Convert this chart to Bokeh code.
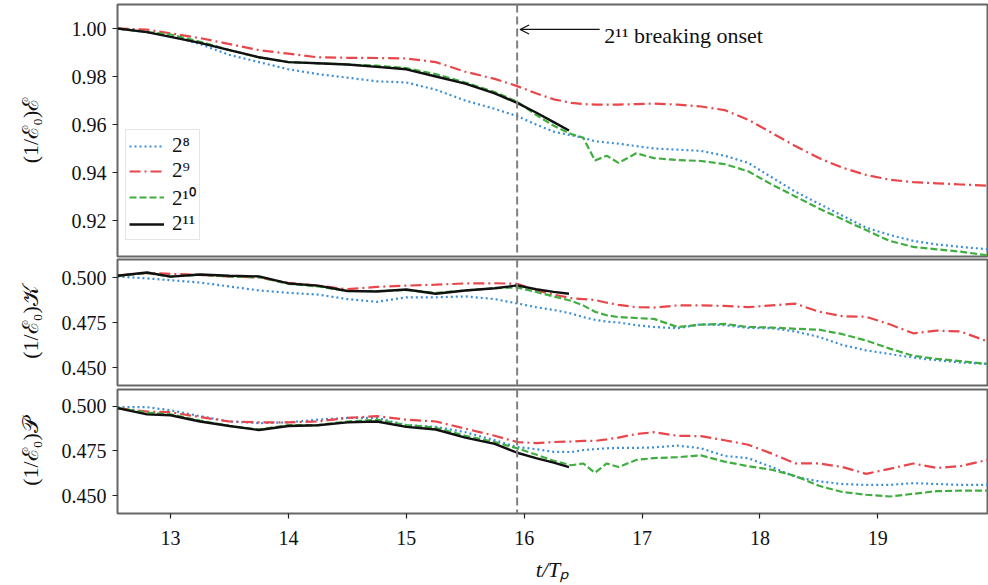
import numpy as np
from bokeh.plotting import figure
from bokeh.layouts import column
from bokeh.models import (Span, Arrow, OpenHead, Label, FixedTicker, NumeralTickFormatter,
                          Range1d, Legend, LegendItem)
from bokeh.embed import file_html
from bokeh.resources import INLINE

# ---------------- data ----------------
t = [12.55, 12.8, 13.0, 13.25, 13.5, 13.75, 14.0, 14.25, 14.5, 14.75, 15.0, 15.25, 15.5, 15.75,
     15.94, 16.1, 16.25, 16.4, 16.5, 16.6, 16.7, 16.8, 16.95, 17.1, 17.3, 17.5, 17.7, 17.9,
     18.1, 18.3, 18.5, 18.7, 18.9, 19.1, 19.3, 19.5, 19.7, 19.93]
t11 = [12.55, 12.8, 13.0, 13.25, 13.5, 13.75, 14.0, 14.25, 14.5, 14.75, 15.0, 15.25, 15.5, 15.75,
       15.94, 16.1, 16.25, 16.38]

E8 = [1.000, 0.9985, 0.997, 0.9935, 0.989, 0.986, 0.983, 0.981, 0.9795, 0.978, 0.9775, 0.9745,
      0.970, 0.9665, 0.9635, 0.960, 0.957, 0.9555, 0.9545, 0.953, 0.9525, 0.952, 0.951, 0.950,
      0.9495, 0.949, 0.947, 0.944, 0.938, 0.932, 0.927, 0.922, 0.917, 0.914, 0.9115, 0.910,
      0.909, 0.908]
E9 = [1.000, 0.9995, 0.998, 0.996, 0.9935, 0.991, 0.9895, 0.988, 0.9878, 0.9877, 0.9875, 0.986,
      0.982, 0.979, 0.976, 0.973, 0.9705, 0.969, 0.9685, 0.9683, 0.9683, 0.9683, 0.9685, 0.9687,
      0.9683, 0.9675, 0.966, 0.962, 0.9565, 0.951, 0.946, 0.942, 0.939, 0.937, 0.936, 0.9355,
      0.935, 0.9345]
E10 = [1.000, 0.9985, 0.9975, 0.9945, 0.991, 0.988, 0.986, 0.9855, 0.985, 0.9845, 0.9835, 0.981,
       0.9775, 0.9735, 0.9695, 0.964, 0.9595, 0.956, 0.9545, 0.945, 0.947, 0.944, 0.948, 0.946,
       0.9452, 0.9448, 0.9435, 0.9405, 0.935, 0.930, 0.925, 0.9205, 0.916, 0.9115, 0.909, 0.908,
       0.907, 0.9055]
E11 = [1.000, 0.9985, 0.9965, 0.994, 0.991, 0.988, 0.986, 0.9855, 0.985, 0.984, 0.983, 0.980,
       0.977, 0.973, 0.969, 0.965, 0.961, 0.9575]

K8 = [0.5005, 0.4995, 0.4985, 0.4972, 0.495, 0.4928, 0.4915, 0.4905, 0.488, 0.4865, 0.489, 0.489,
      0.4895, 0.488, 0.4856, 0.4835, 0.482, 0.480, 0.478, 0.4765, 0.4755, 0.475, 0.4735, 0.4725,
      0.4718, 0.474, 0.4735, 0.472, 0.4718, 0.470, 0.467, 0.4625, 0.4595, 0.4575, 0.4555, 0.454,
      0.4528, 0.452]
K9 = [0.501, 0.5025, 0.502, 0.5015, 0.5005, 0.500, 0.497, 0.4955, 0.4935, 0.4948, 0.4955, 0.496,
      0.4967, 0.4968, 0.4965, 0.493, 0.4905, 0.4885, 0.488, 0.4875, 0.486, 0.4848, 0.4835, 0.4833,
      0.4845, 0.4845, 0.4842, 0.4835, 0.4845, 0.4855, 0.481, 0.4785, 0.4782, 0.474, 0.469, 0.4705,
      0.470, 0.4645]
K10 = [0.501, 0.5025, 0.5005, 0.5015, 0.5005, 0.5002, 0.4965, 0.495, 0.4925, 0.4925, 0.493, 0.4915,
       0.4928, 0.494, 0.4945, 0.492, 0.4895, 0.487, 0.4845, 0.481, 0.479, 0.478, 0.4775, 0.477,
       0.4725, 0.4738, 0.4742, 0.4725, 0.4722, 0.4715, 0.471, 0.4685, 0.465, 0.4605, 0.4565,
       0.4548, 0.4535, 0.452]
K11 = [0.501, 0.5028, 0.5005, 0.5017, 0.501, 0.5006, 0.4967, 0.4955, 0.4925, 0.4922, 0.4933, 0.491,
       0.4928, 0.494, 0.4956, 0.4935, 0.492, 0.491]

P8 = [0.4995, 0.4995, 0.4978, 0.4945, 0.4915, 0.4906, 0.491, 0.4925, 0.4935, 0.4935, 0.4895, 0.4885,
      0.4855, 0.481, 0.4772, 0.476, 0.4745, 0.4744, 0.4755, 0.476, 0.4765, 0.4767, 0.4767, 0.477,
      0.478, 0.4765, 0.4722, 0.471, 0.466, 0.4605, 0.458, 0.4565, 0.456, 0.456, 0.457, 0.4565,
      0.456, 0.456]
P9 = [0.499, 0.497, 0.4967, 0.494, 0.4915, 0.491, 0.491, 0.4915, 0.4935, 0.4945, 0.4925, 0.4915,
      0.4875, 0.4835, 0.480, 0.4794, 0.480, 0.4803, 0.4806, 0.4806, 0.4815, 0.4825, 0.4845, 0.4855,
      0.4835, 0.4833, 0.481, 0.4785, 0.4735, 0.468, 0.468, 0.466, 0.4622, 0.465, 0.468, 0.4655,
      0.4665, 0.470]
P10 = [0.499, 0.4965, 0.4955, 0.492, 0.489, 0.487, 0.4895, 0.4895, 0.4915, 0.4925, 0.4895, 0.488,
       0.4835, 0.480, 0.4765, 0.473, 0.4695, 0.467, 0.468, 0.4628, 0.468, 0.466, 0.470, 0.471,
       0.4715, 0.4725, 0.469, 0.4665, 0.4645, 0.461, 0.4555, 0.452, 0.4505, 0.4495, 0.451, 0.4525,
       0.4528, 0.4528]
P11 = [0.499, 0.4955, 0.495, 0.4915, 0.489, 0.4867, 0.489, 0.4894, 0.491, 0.4915, 0.4885, 0.487,
       0.4825, 0.479, 0.474, 0.471, 0.4685, 0.466]

labels = ["2⁸", "2⁹", "2¹⁰", "2¹¹"]
onset = 15.94
x_ticks = [13, 14, 15, 16, 17, 18, 19]

# ---------------- styles ----------------
FONT = "Liberation Serif"
colors = ["#3d8fd6", "#e8464b", "#3fae3f", "#111111"]
dashes = ["2 3", "11 4 2 4", "7 3", "solid"]
XR = (12.55, 19.93)


def make_fig(height, yr, ticks, fmt, ylabel, border_top, border_bottom, standoff, show_x):
    p = figure(width=988, height=height, output_backend="svg", toolbar_location=None,
               x_range=Range1d(*XR), y_range=Range1d(*yr),
               min_border_left=117, min_border_right=1,
               min_border_top=border_top, min_border_bottom=border_bottom)
    p.grid.visible = False
    p.outline_line_color = "#666666"
    p.outline_line_width = 2
    p.background_fill_color = "white"
    p.border_fill_color = "white"
    p.yaxis.ticker = FixedTicker(ticks=ticks)
    p.yaxis.formatter = NumeralTickFormatter(format=fmt)
    p.yaxis.axis_label = ylabel
    p.yaxis.axis_label_text_font = FONT
    p.yaxis.axis_label_text_font_size = "22px"
    p.yaxis.axis_label_text_font_style = "normal"
    p.yaxis.axis_label_text_color = "#111111"
    p.yaxis.axis_label_standoff = standoff
    for ax in [p.xaxis[0], p.yaxis[0]]:
        ax.axis_line_color = None
        ax.major_tick_line_color = "#222222"
        ax.major_tick_line_width = 1.2
        ax.major_tick_out = 5
        ax.major_tick_in = 0
        ax.minor_tick_line_color = None
        ax.major_label_text_font = FONT
        ax.major_label_text_font_size = "20px"
        ax.major_label_text_color = "#111111"
        ax.major_label_standoff = 6
    p.xaxis.ticker = FixedTicker(ticks=x_ticks)
    if show_x:
        p.xaxis.major_label_standoff = 12
        p.xaxis.axis_label = "t/Tₚ"
        p.xaxis.axis_label_text_font = FONT
        p.xaxis.axis_label_text_font_size = "22px"
        p.xaxis.axis_label_text_font_style = "italic"
        p.xaxis.axis_label_text_color = "#111111"
        p.xaxis.axis_label_standoff = 9
    else:
        p.xaxis.visible = False
    p.add_layout(Span(location=onset, dimension="height", line_color="#808080",
                      line_width=2, line_dash="8 4"))
    return p


p1 = make_fig(258, (0.905, 1.01), [0.92, 0.94, 0.96, 0.98, 1.00], "0.00",
              "(1/ℰ₀)ℰ", 4, 2, 26, False)
p2 = make_fig(129, (0.440, 0.510), [0.450, 0.475, 0.500], "0.000",
              "(1/ℰ₀)𝒦", 1, 2, 16, False)
p3 = make_fig(198, (0.440, 0.5094), [0.450, 0.475, 0.500], "0.000",
              "(1/ℰ₀)𝒫", 2, 72, 16, True)

series = [(E8, E9, E10, E11), (K8, K9, K10, K11), (P8, P9, P10, P11)]
legend_items = []
for p, ys in zip([p1, p2, p3], series):
    for i, y in enumerate(ys):
        x = t11 if i == 3 else t
        r = p.line(x, y, line_color=colors[i], line_width=2.2 if i < 3 else 2.4,
                   line_dash=dashes[i])
        if p is p1:
            legend_items.append(LegendItem(label=labels[i], renderers=[r]))

leg = Legend(items=legend_items, location=(8, 16), glyph_width=35, glyph_height=18,
             label_text_font=FONT, label_text_font_size="21px", label_standoff=8,
             spacing=0, padding=3, border_line_color="#cccccc", border_line_width=1.5,
             background_fill_alpha=0.85, label_height=18, label_text_color="#111111",
             margin=0)
p1.add_layout(leg, "center")

p1.add_layout(Arrow(end=OpenHead(size=9, line_width=1.3, line_color="#111111"),
                    x_start=16.64, y_start=0.9996, x_end=15.965, y_end=0.9996,
                    line_width=1.3, line_color="#111111"))
p1.add_layout(Label(x=16.68, y=0.9972, text="2¹¹ breaking onset", text_font=FONT,
                    text_font_size="22px", text_baseline="middle", text_color="#111111"))

layout = column(p1, p2, p3)
open("out.html", "w").write(file_html(layout, INLINE))
